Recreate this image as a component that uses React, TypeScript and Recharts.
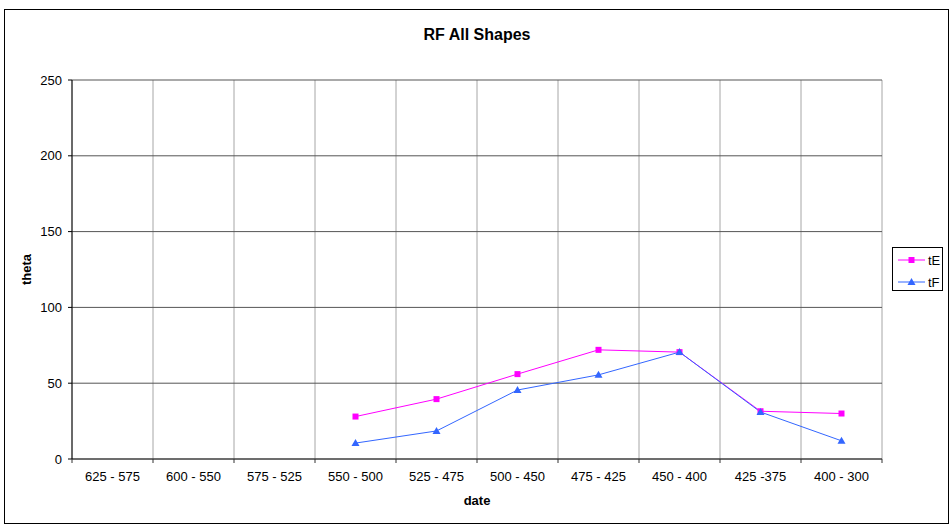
import { CartesianGrid, Label, Line, LineChart, XAxis, YAxis } from "recharts";

const categories = [
  "625 - 575",
  "600 - 550",
  "575 - 525",
  "550 - 500",
  "525 - 475",
  "500 - 450",
  "475 - 425",
  "450 - 400",
  "425 -375",
  "400 - 300",
];
const tE = [null, null, null, 28, 39.5, 56, 72, 70.5, 31.5, 30];
const tF = [null, null, null, 10.5, 18.5, 45.5, 55.5, 70.5, 31, 12];
const yTicks = [0, 50, 100, 150, 200, 250];

const data = categories.map((date, i) => ({ date, tE: tE[i], tF: tF[i] }));

const font = "'Liberation Sans', Arial, sans-serif";
const pink = "#FF00FF";
const blue = "#3366FF";
const TICK_SIZE = 4;
const TICK_MARGIN = 9;

const SquareDot = (p: any) => {
  if (p.cx == null || p.cy == null || p.value == null) return <g key={p.index} />;
  return <rect key={p.index} x={p.cx - 3} y={p.cy - 3} width={6} height={6} fill={pink} />;
};

const TriangleDot = (p: any) => {
  if (p.cx == null || p.cy == null || p.value == null) return <g key={p.index} />;
  const { cx, cy } = p;
  return (
    <polygon
      key={p.index}
      points={`${cx},${cy - 4} ${cx + 4},${cy + 3} ${cx - 4},${cy + 3}`}
      fill={blue}
    />
  );
};

// excel style: tick marks sit between categories, label in the middle
const CategoryTick = (p: any) => {
  const band = p.width / p.visibleTicksCount;
  const axisY = p.y - TICK_SIZE - TICK_MARGIN;
  const left = p.x - band / 2;
  const last = p.index === p.visibleTicksCount - 1;
  return (
    <g>
      <line x1={left} y1={axisY} x2={left} y2={axisY + TICK_SIZE} stroke="#333" />
      {last && (
        <line x1={left + band} y1={axisY} x2={left + band} y2={axisY + TICK_SIZE} stroke="#333" />
      )}
      <text
        x={p.x}
        y={p.y}
        dy="0.71em"
        textAnchor="middle"
        fontSize={13}
        fontFamily={font}
        fill="#000"
      >
        {p.payload.value}
      </text>
    </g>
  );
};

export default function App() {
  return (
    <div
      style={{
        position: "absolute",
        left: 0,
        top: 0,
        width: 949,
        height: 525,
        background: "#fff",
        fontFamily: font,
      }}
    >
      <div
        style={{
          position: "absolute",
          left: 4,
          top: 9,
          width: 945,
          height: 515,
          border: "1px solid #000",
          boxSizing: "border-box",
        }}
      />
      <div
        style={{
          position: "absolute",
          left: 72,
          top: 27,
          width: 810,
          textAlign: "center",
          fontSize: 16,
          lineHeight: "16px",
          fontWeight: "bold",
        }}
      >
        RF All Shapes
      </div>

      <LineChart
        width={949}
        height={525}
        data={data}
        margin={{ top: 80, right: 67, bottom: 16, left: 10 }}
        style={{ position: "absolute", left: 0, top: 0 }}
      >
        <CartesianGrid
          horizontal={false}
          stroke="#a6a6a6"
          verticalCoordinatesGenerator={({ offset }: any) =>
            categories
              .map((_, i) => offset.left + (i * offset.width) / categories.length)
              .concat(offset.left + offset.width)
          }
        />
        <CartesianGrid vertical={false} stroke="#555" />
        <XAxis
          dataKey="date"
          interval={0}
          padding={{ left: 40.5, right: 40.5 }}
          axisLine={{ stroke: "#333" }}
          tickLine={false}
          tickSize={TICK_SIZE}
          tickMargin={TICK_MARGIN}
          height={50}
          tick={<CategoryTick />}
        >
          <Label
            value="date"
            position="insideBottom"
            offset={4}
            style={{ fontWeight: "bold", fontSize: 13, fill: "#000", fontFamily: font }}
          />
        </XAxis>
        <YAxis
          domain={[0, 250]}
          ticks={yTicks}
          width={62}
          tickSize={4}
          tickMargin={6}
          axisLine={{ stroke: "#000" }}
          tickLine={{ stroke: "#000" }}
          tick={{ fill: "#000", fontSize: 13, fontFamily: font }}
        >
          <Label
            value="theta"
            angle={-90}
            position="insideLeft"
            offset={16}
            style={{
              textAnchor: "middle",
              fontWeight: "bold",
              fontSize: 13,
              fill: "#000",
              fontFamily: font,
            }}
          />
        </YAxis>
        <Line
          dataKey="tE"
          stroke={pink}
          strokeWidth={1}
          dot={SquareDot}
          activeDot={false}
          isAnimationActive={false}
        />
        <Line
          dataKey="tF"
          stroke={blue}
          strokeWidth={1}
          dot={TriangleDot}
          activeDot={false}
          isAnimationActive={false}
        />
      </LineChart>

      <div
        style={{
          position: "absolute",
          left: 892,
          top: 247,
          width: 51,
          height: 44,
          border: "1px solid #000",
          boxSizing: "border-box",
          background: "#fff",
        }}
      >
        <svg width={49} height={42} style={{ display: "block" }}>
          <line x1={5} y1={12} x2={32} y2={12} stroke={pink} />
          <rect x={15.5} y={9} width={6} height={6} fill={pink} />
          <text x={35} y={16.5} fontSize={13} fontFamily={font} fill="#000">
            tE
          </text>
          <line x1={5} y1={34} x2={32} y2={34} stroke={blue} />
          <polygon points="18.5,30 22.5,37 14.5,37" fill={blue} />
          <text x={35} y={38.5} fontSize={13} fontFamily={font} fill="#000">
            tF
          </text>
        </svg>
      </div>
    </div>
  );
}
